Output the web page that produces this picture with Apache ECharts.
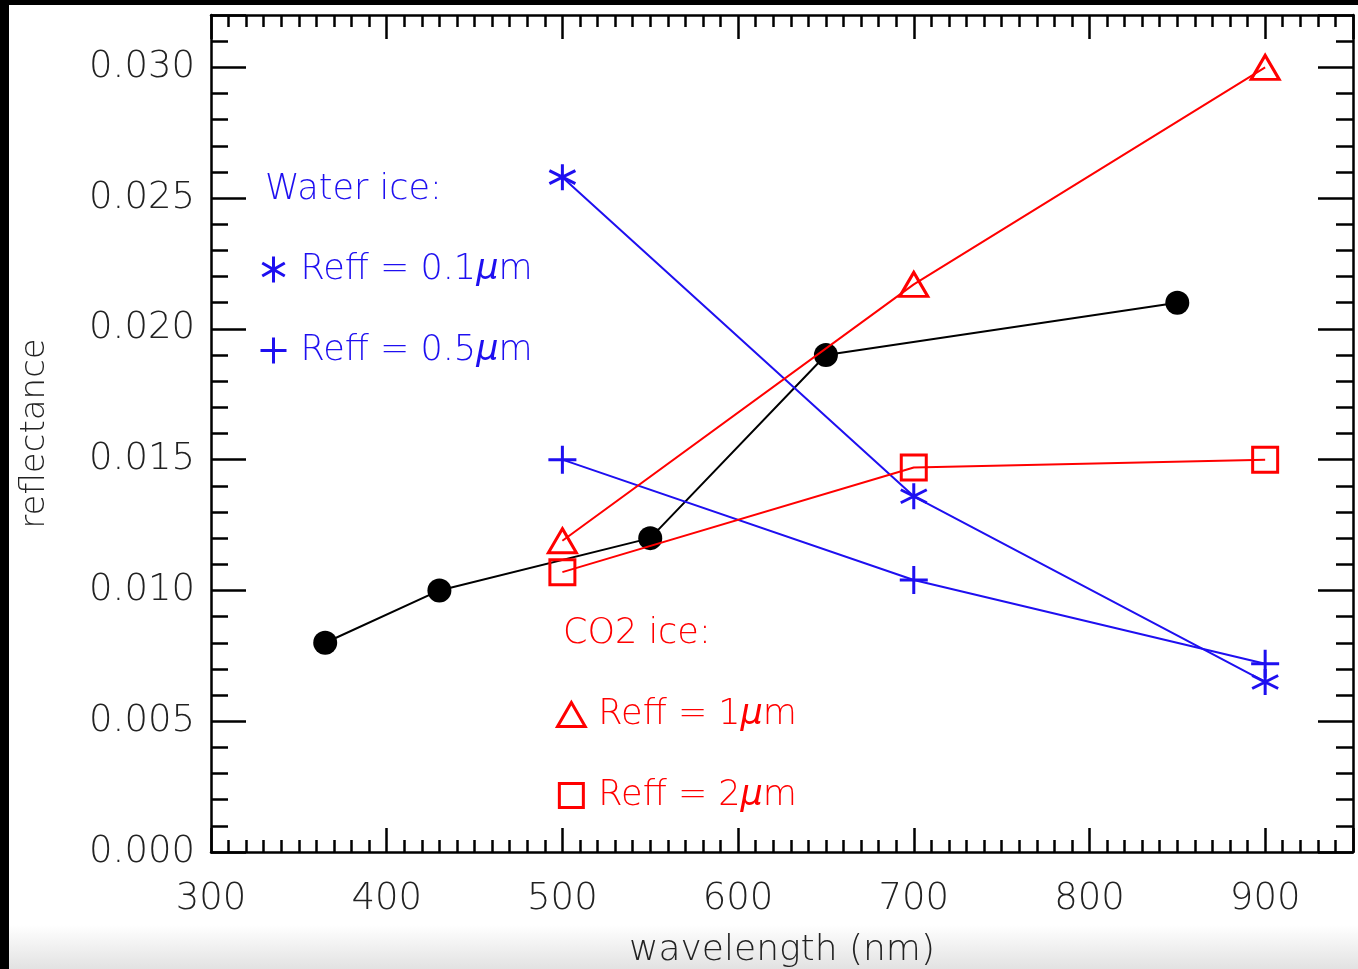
<!DOCTYPE html>
<html>
<head>
<meta charset="utf-8">
<script src="https://cdn.jsdelivr.net/npm/echarts@6/dist/echarts.min.js"></script>
<style>
html,body{margin:0;padding:0;background:#fff;}
#chart{width:1358px;height:969px;}
</style>
</head>
<body>
<div id="chart"></div>
<script>
// ---- data ----
const observedWavelength = [365, 430, 550, 650, 850];
const observedReflectance = [0.0080, 0.0100, 0.0120, 0.0190, 0.0210];

const modelWavelength = [500, 700, 900];
const water01 = [0.0258, 0.0136, 0.0065];   // Reff = 0.1 µm (asterisk)
const water05 = [0.0150, 0.0104, 0.0072];   // Reff = 0.5 µm (plus)
const co2_1 = [0.0119, 0.0217, 0.0300];     // Reff = 1 µm (triangle)
const co2_2 = [0.0107, 0.0147, 0.0150];     // Reff = 2 µm (square)

const seriesNames = ['Reff = 0.1μm', 'Reff = 0.5μm', 'Reff = 1μm', 'Reff = 2μm'];
const xTitle = 'wavelength (nm)';
const yTitle = 'reflectance';
const waterTitle = 'Water ice:';
const co2Title = 'CO2 ice:';

// ---- styling ----
const BLUE = '#1e0ff0';
const RED = '#ff0000';
const FONT = "'DejaVu Sans', sans-serif";
const WEIGHT = 200;
const ASTERISK = 'path://M50 0 L50 100 M6.7 25 L93.3 75 M6.7 75 L93.3 25';
const PLUS = 'path://M0 50 L100 50 M50 0 L50 100';
const TRIANGLE = 'path://M50 0 L100 86.6 L0 86.6 Z';
const SQUARE = 'path://M0 0 L100 0 L100 100 L0 100 Z';

const pair = (xs, ys) => xs.map((x, i) => [x, ys[i]]);

const chart = echarts.init(document.getElementById('chart'), null, {renderer: 'canvas'});

const lineStyleAxis = {color: '#000', width: 2.5};

function xAxisDef(pos, extra) {
  return Object.assign({
    type: 'value', min: 300, max: 950, interval: 100, position: pos,
    axisLine: {show: true, onZero: false, lineStyle: lineStyleAxis},
    splitLine: {show: false},
    axisTick: {show: true, inside: true, length: 24, lineStyle: lineStyleAxis},
    minorTick: {show: true, splitNumber: 10, length: 12, lineStyle: lineStyleAxis},
    axisLabel: {show: false}
  }, extra || {});
}
function yAxisDef(pos, extra) {
  return Object.assign({
    type: 'value', min: 0, max: 0.032, interval: 0.005, position: pos,
    axisLine: {show: true, onZero: false, lineStyle: lineStyleAxis},
    splitLine: {show: false},
    axisTick: {show: true, inside: true, length: 35, lineStyle: lineStyleAxis},
    minorTick: {show: true, splitNumber: 5, length: 17, lineStyle: lineStyleAxis},
    axisLabel: {show: false}
  }, extra || {});
}

const legendFormatter = name => name.replace('μ', '{mu|μ}');

const option = {
  animation: false,
  backgroundColor: '#fff',
  grid: {left: 211, right: 5, top: 15, bottom: 117, containLabel: false, outerBoundsMode: 'none'},
  xAxis: [
    xAxisDef('bottom', {
      name: xTitle, nameLocation: 'middle', nameGap: 81,
      nameTextStyle: {fontFamily: FONT, fontWeight: WEIGHT, fontSize: 36, color: '#222'},
      axisLabel: {show: true, fontFamily: FONT, fontWeight: WEIGHT, fontSize: 37, color: '#222',
                  margin: 29, showMaxLabel: false}
    }),
    xAxisDef('top')
  ],
  yAxis: [
    yAxisDef('left', {
      name: yTitle, nameLocation: 'middle', nameGap: 159, nameRotate: 90,
      nameTextStyle: {fontFamily: FONT, fontWeight: WEIGHT, fontSize: 34, color: '#222'},
      axisLabel: {show: true, fontFamily: FONT, fontWeight: WEIGHT, fontSize: 37, color: '#222',
                  margin: 16, showMaxLabel: false, formatter: v => v.toFixed(3)}
    }),
    yAxisDef('right')
  ],
  legend: [
    {
      orient: 'vertical', left: 258, top: 252, itemWidth: 44, itemHeight: 26, itemGap: 46,
      selectedMode: false, padding: 0,
      textStyle: {fontFamily: FONT, fontWeight: WEIGHT, fontSize: 35, lineHeight: 32, color: BLUE,
                  rich: {mu: {fontFamily: FONT, fontWeight: WEIGHT, fontSize: 35, fontStyle: 'italic', color: BLUE}}},
      formatter: legendFormatter,
      data: [
        {name: seriesNames[0], icon: ASTERISK, itemStyle: {color: 'none', borderColor: BLUE, borderWidth: 3}},
        {name: seriesNames[1], icon: PLUS, itemStyle: {color: 'none', borderColor: BLUE, borderWidth: 3}}
      ]
    },
    {
      orient: 'vertical', left: 555, top: 697, itemWidth: 44, itemHeight: 24, itemGap: 46,
      selectedMode: false, padding: 0,
      textStyle: {fontFamily: FONT, fontWeight: WEIGHT, fontSize: 35, lineHeight: 32, color: RED,
                  rich: {mu: {fontFamily: FONT, fontWeight: WEIGHT, fontSize: 35, fontStyle: 'italic', color: RED}}},
      formatter: legendFormatter,
      data: [
        {name: seriesNames[2], icon: TRIANGLE, itemStyle: {color: 'none', borderColor: RED, borderWidth: 3}},
        {name: seriesNames[3], icon: SQUARE, itemStyle: {color: 'none', borderColor: RED, borderWidth: 3}}
      ]
    }
  ],
  graphic: [
    {type: 'rect', shape: {x: 0, y: 925, width: 1358, height: 44}, z: -10, silent: true,
     style: {fill: new echarts.graphic.LinearGradient(0, 0, 0, 1, [
       {offset: 0, color: '#ffffff'}, {offset: 1, color: '#e2e2e2'}])}},
    {type: 'rect', shape: {x: 0, y: 0, width: 1358, height: 5}, z: 100, silent: true, style: {fill: '#000'}},
    {type: 'rect', shape: {x: 0, y: 0, width: 9, height: 969}, z: 100, silent: true, style: {fill: '#000'}},
    {type: 'text', left: 265, top: 172, silent: true,
     style: {text: waterTitle, fill: BLUE, font: WEIGHT + " 35px 'DejaVu Sans', sans-serif"}},
    {type: 'text', left: 563, top: 616, silent: true,
     style: {text: co2Title, fill: RED, font: WEIGHT + " 35px 'DejaVu Sans', sans-serif"}}
  ],
  series: [
    {
      name: 'observed', type: 'line', data: pair(observedWavelength, observedReflectance),
      symbol: 'circle', symbolSize: 24,
      itemStyle: {color: '#000'}, lineStyle: {color: '#000', width: 2}, z: 3
    },
    {
      name: seriesNames[0], type: 'line', data: pair(modelWavelength, water01),
      symbol: ASTERISK, symbolSize: 26,
      itemStyle: {color: 'none', borderColor: BLUE, borderWidth: 3},
      lineStyle: {color: BLUE, width: 2}, z: 4
    },
    {
      name: seriesNames[1], type: 'line', data: pair(modelWavelength, water05),
      symbol: PLUS, symbolSize: 28,
      itemStyle: {color: 'none', borderColor: BLUE, borderWidth: 3},
      lineStyle: {color: BLUE, width: 2}, z: 4
    },
    {
      name: seriesNames[2], type: 'line', data: pair(modelWavelength, co2_1),
      symbol: 'triangle', symbolSize: [28, 24],
      itemStyle: {color: 'none', borderColor: RED, borderWidth: 3},
      lineStyle: {color: RED, width: 2}, z: 5
    },
    {
      name: seriesNames[3], type: 'line', data: pair(modelWavelength, co2_2),
      symbol: 'rect', symbolSize: 25,
      itemStyle: {color: 'none', borderColor: RED, borderWidth: 3},
      lineStyle: {color: RED, width: 2}, z: 5
    }
  ]
};

chart.setOption(option);
</script>
</body>
</html>
